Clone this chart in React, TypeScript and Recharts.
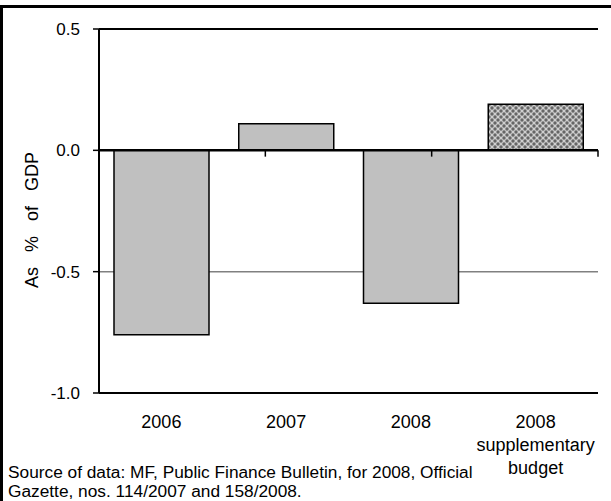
import React from 'react';
import {
  BarChart,
  Bar,
  Cell,
  XAxis,
  YAxis,
  CartesianGrid,
  ReferenceLine,
} from 'recharts';

// General government balance, % of GDP
const categories = ['2006', '2007', '2008', '2008\nsupplementary\nbudget'];
const balance = [-0.76, 0.11, -0.63, 0.19];
const yTicks = [-1, -0.5, 0, 0.5];
// category boundaries on the zero line (index positions)
const boundaries = [1, 2, 3];

const data = categories.map((name, i) => ({ name, value: balance[i] }));

const FONT = '"Liberation Sans", Arial, sans-serif';

const CategoryTick = ({ x, y, payload }: any) => {
  const lines = String(payload.value).split('\n');
  return (
    <text x={x} y={y} textAnchor="middle" fontSize={18} fontFamily={FONT} fill="#000">
      {lines.map((line, i) => (
        <tspan key={i} x={x} dy={i === 0 ? 35 : 23}>
          {line}
        </tspan>
      ))}
    </text>
  );
};

const AxisTitle = () => (
  <text
    x={32}
    y={220}
    transform="rotate(-90 32 220)"
    textAnchor="middle"
    dominantBaseline="central"
    fontSize={18}
    fontFamily={FONT}
    wordSpacing={10}
    fill="#000"
  >
    As % of GDP
  </text>
);

export default function App() {
  return (
    <div style={{ position: 'absolute', left: 0, top: 0, width: 611, height: 501, background: '#fff' }}>
      <div
        style={{
          position: 'absolute',
          left: 0,
          top: 5,
          width: 611,
          height: 496,
          borderTop: '3px solid #000',
          borderLeft: '3px solid #000',
          boxSizing: 'border-box',
        }}
      />
      <div style={{ position: 'absolute', left: 0, top: 0 }}>
        <BarChart
          width={611}
          height={501}
          data={data}
          margin={{ top: 29, right: 13, bottom: 78, left: 0 }}
          barSize={95}
        >
          <defs>
            <pattern id="hatch" width="6" height="6" patternUnits="userSpaceOnUse">
              <rect width="6" height="6" fill="#cfcfcf" />
              <circle cx="0" cy="0" r="1.7" fill="#666" />
              <circle cx="6" cy="0" r="1.7" fill="#666" />
              <circle cx="0" cy="6" r="1.7" fill="#666" />
              <circle cx="6" cy="6" r="1.7" fill="#666" />
              <circle cx="3" cy="3" r="1.7" fill="#666" />
            </pattern>
          </defs>
          <CartesianGrid vertical={false} stroke="#808080" strokeWidth={1.5} />
          <XAxis
            dataKey="name"
            height={30}
            axisLine={{ stroke: '#000', strokeWidth: 2 }}
            tickLine={false}
            tickSize={0}
            tickMargin={0}
            interval={0}
            tick={<CategoryTick />}
          />
          <XAxis xAxisId="n" type="number" domain={[0, 4]} hide />
          <YAxis
            width={99}
            domain={[-1, 0.5]}
            ticks={yTicks}
            interval={0}
            tickFormatter={(v: number) => v.toFixed(1)}
            axisLine={{ stroke: '#000', strokeWidth: 2 }}
            tickLine={{ stroke: '#000', strokeWidth: 1.5 }}
            tickSize={6}
            tickMargin={13}
            tick={{ fill: '#000', fontSize: 17, fontFamily: FONT }}
            label={<AxisTitle />}
          />
          <YAxis
            yAxisId="right"
            orientation="right"
            width={0}
            domain={[-1, 0.5]}
            tick={false}
            tickLine={false}
            axisLine={{ stroke: '#000', strokeWidth: 2 }}
          />
          <ReferenceLine y={0.5} stroke="#000" strokeWidth={2} />
          <Bar dataKey="value" stroke="#000" strokeWidth={1.5} isAnimationActive={false}>
            {data.map((d, i) => (
              <Cell key={d.name} fill={i === data.length - 1 ? 'url(#hatch)' : '#c0c0c0'} />
            ))}
          </Bar>
          <ReferenceLine y={0} stroke="#000" strokeWidth={2.5} />
          {boundaries.map((b) => (
            <ReferenceLine
              key={b}
              xAxisId="n"
              segment={[
                { x: b, y: 0 },
                { x: b, y: -0.026 },
              ]}
              stroke="#000"
              strokeWidth={1.5}
            />
          ))}
        </BarChart>
      </div>
      <div
        style={{
          position: 'absolute',
          left: 8,
          top: 463,
          fontFamily: FONT,
          fontSize: 16,
          lineHeight: '19px',
          whiteSpace: 'nowrap',
          color: '#000',
          transform: 'scaleX(1.08)',
          transformOrigin: 'left top',
        }}
      >
        Source of data: MF, Public Finance Bulletin, for 2008, Official
        <br />
        Gazette, nos. 114/2007 and 158/2008.
      </div>
    </div>
  );
}
